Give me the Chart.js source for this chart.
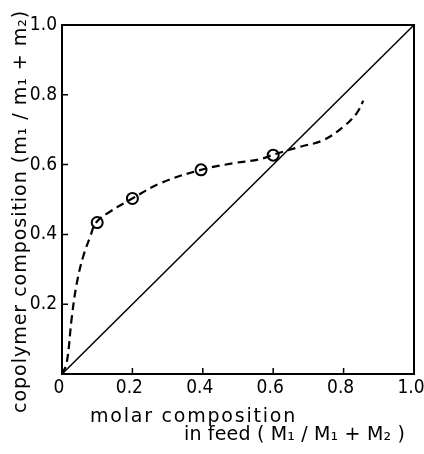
<!DOCTYPE html>
<html>
<head>
<meta charset="utf-8">
<script src="https://cdn.jsdelivr.net/npm/chart.js@4"></script>
<style>
  html, body { margin: 0; padding: 0; background: #fff; }
  #wrap { width: 424px; height: 454px; }
</style>
</head>
<body>
<div id="wrap"><canvas id="c"></canvas></div>
<script>
// measured points (feed vs copolymer)
const feedX = [0.1, 0.2, 0.395, 0.6];
const copolyY = [0.434, 0.503, 0.585, 0.627];

// dashed fitted curve
const curveX = [0, 0.013, 0.028, 0.042, 0.06, 0.08, 0.097, 0.136, 0.2, 0.278, 0.395, 0.487, 0.56, 0.605, 0.676, 0.742, 0.8, 0.837, 0.856];
const curveY = [0, 0.03, 0.164, 0.26, 0.336, 0.393, 0.434, 0.465, 0.503, 0.546, 0.585, 0.604, 0.615, 0.63, 0.651, 0.67, 0.709, 0.747, 0.783];

// azeotrope reference line
const diagX = [0, 1];
const diagY = [0, 1];

const tickVals = [0, 0.2, 0.4, 0.6, 0.8, 1.0];

const toPts = (xs, ys) => xs.map((x, i) => ({ x, y: ys[i] }));

const tickFont = { family: "'Liberation Sans Narrow', 'DejaVu Sans Condensed', 'Liberation Sans'", size: 19 };

// write text stretched to a given length
function spreadText(ctx, txt, x, y, len) {
  ctx.letterSpacing = '0px';
  const w = ctx.measureText(txt).width;
  const n = [...txt].length;
  ctx.letterSpacing = ((len - w) / n).toFixed(2) + 'px';
  ctx.fillText(txt, x, y);
}

// frame, inward ticks, axis titles
const decor = {
  id: 'decor',
  afterDraw(chart) {
    const { ctx, chartArea: a, scales } = chart;
    ctx.save();
    ctx.strokeStyle = '#000';
    ctx.lineWidth = 2;
    ctx.strokeRect(a.left, a.top, a.right - a.left, a.bottom - a.top);

    ctx.lineWidth = 1.5;
    ctx.beginPath();
    tickVals.forEach(v => {
      const px = scales.x.getPixelForValue(v);
      ctx.moveTo(px, a.bottom);
      ctx.lineTo(px, a.bottom - 6);
      const py = scales.y.getPixelForValue(v);
      ctx.moveTo(a.left, py);
      ctx.lineTo(a.left + 6, py);
    });
    ctx.stroke();

    ctx.fillStyle = '#000';
    ctx.font = '19px "DejaVu Sans"';
    ctx.textBaseline = 'alphabetic';
    ctx.textAlign = 'left';
    spreadText(ctx, 'molar composition', 90, 422, 207);
    spreadText(ctx, 'in feed ( M₁ / M₁ + M₂ )', 184, 440, 221);

    ctx.translate(26, 413);
    ctx.rotate(-Math.PI / 2);
    spreadText(ctx, 'copolymer composition (m₁ / m₁ + m₂)', 0, 0, 403);
    ctx.restore();
  }
};

new Chart(document.getElementById('c'), {
  type: 'scatter',
  data: {
    datasets: [
      {
        data: toPts(diagX, diagY),
        showLine: true,
        borderColor: '#000',
        borderWidth: 1.5,
        pointRadius: 0
      },
      {
        data: toPts(curveX, curveY),
        showLine: true,
        tension: 0.4,
        borderColor: '#000',
        borderWidth: 2.2,
        borderDash: [8, 5],
        pointRadius: 0
      },
      {
        data: toPts(feedX, copolyY),
        showLine: false,
        pointRadius: 5.5,
        pointBorderWidth: 2,
        pointBorderColor: '#000',
        pointBackgroundColor: '#fff'
      }
    ]
  },
  options: {
    responsive: true,
    maintainAspectRatio: false,
    animation: false,
    layout: { padding: { top: 25, right: 0, left: 0, bottom: 0 } },
    plugins: { legend: { display: false }, tooltip: { enabled: false } },
    scales: {
      x: {
        type: 'linear',
        min: 0, max: 1,
        afterBuildTicks: s => { s.ticks = tickVals.map(v => ({ value: v })); },
        afterFit: s => { s.height = 80; s.paddingLeft = 0; s.paddingRight = 10; },
        grid: { display: false, drawTicks: false },
        border: { display: false },
        ticks: {
          color: '#000',
          font: tickFont,
          padding: 3,
          labelOffset: -3,
          maxRotation: 0,
          callback: v => v === 0 ? '0' : v.toFixed(1)
        }
      },
      y: {
        type: 'linear',
        min: 0, max: 1,
        afterBuildTicks: s => { s.ticks = tickVals.map(v => ({ value: v })); },
        afterFit: s => { s.width = 62; s.paddingTop = 0; s.paddingBottom = 0; },
        grid: { display: false, drawTicks: false },
        border: { display: false },
        ticks: {
          color: '#000',
          font: tickFont,
          padding: 5,
          callback: v => v === 0 ? '' : v.toFixed(1)
        }
      }
    }
  },
  plugins: [decor]
});
</script>
</body>
</html>
